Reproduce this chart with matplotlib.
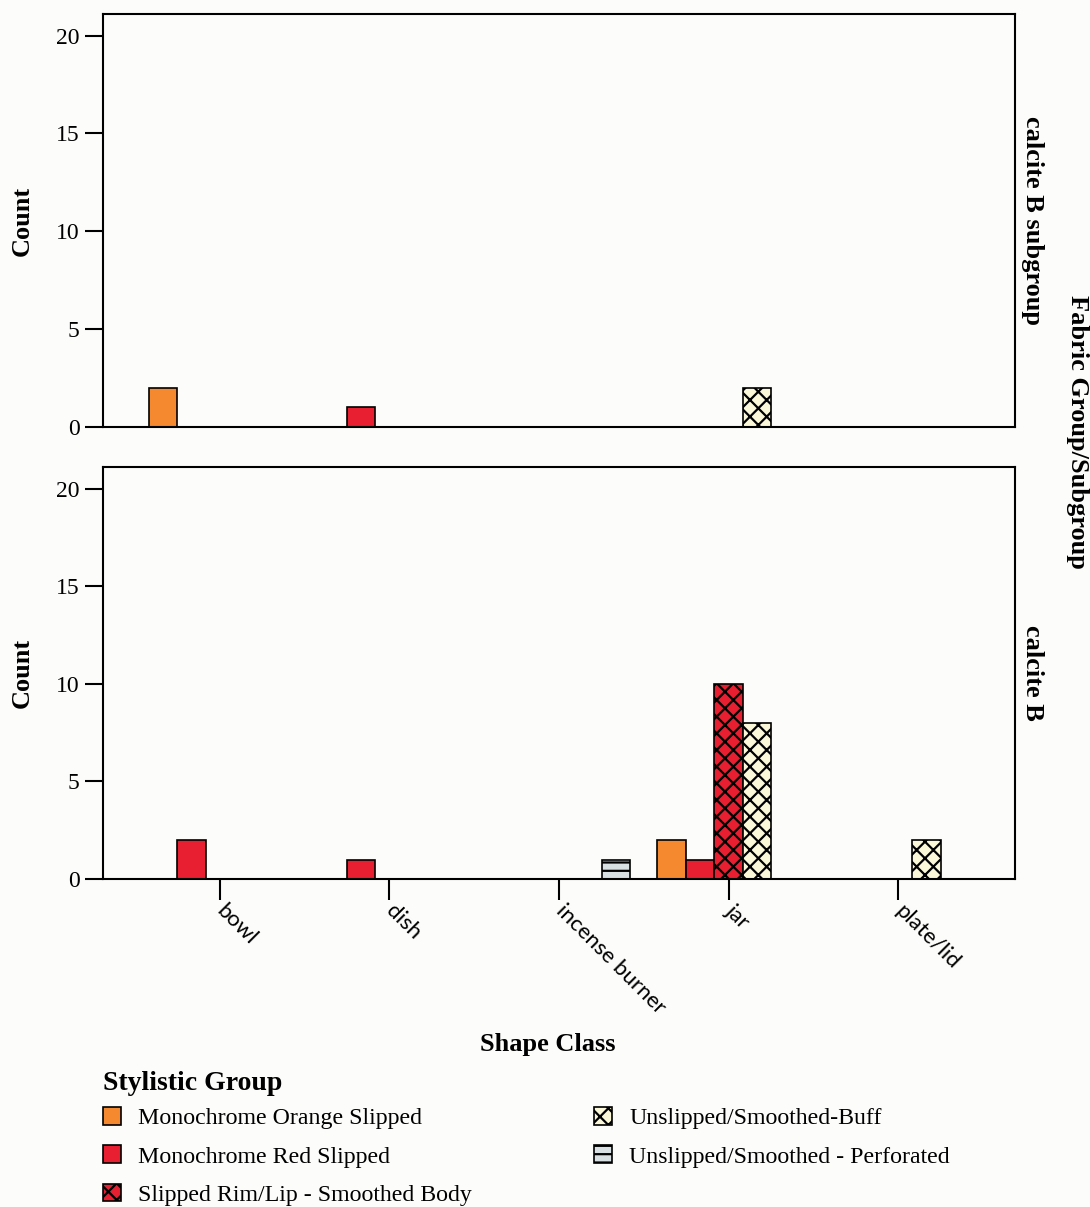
import numpy as np
import matplotlib
matplotlib.use("Agg")
import matplotlib.pyplot as plt
from matplotlib.patches import Patch

plt.rcParams['font.family'] = ['Liberation Serif', 'DejaVu Serif']
plt.rcParams['hatch.linewidth'] = 1.6

# shape classes on the x axis
categories = ['bowl', 'dish', 'incense burner', 'jar', 'plate/lid']

# stylistic groups (one bar slot each within a shape class)
groups = ['Monochrome Orange Slipped', 'Monochrome Red Slipped',
          'Slipped Rim/Lip - Smoothed Body', 'Unslipped/Smoothed-Buff',
          'Unslipped/Smoothed - Perforated']
group_colors = ['#f5892f', '#e81f30', '#e81f30', '#fbf8d9', '#d8e0e4']
group_hatches = [None, None, 'xx', 'xx', '--']

# counts per fabric subgroup, rows follow `groups`, columns follow `categories`
subgroup_counts = [
    [2, 0, 0, 0, 0],
    [0, 1, 0, 0, 0],
    [0, 0, 0, 0, 0],
    [0, 0, 0, 2, 0],
    [0, 0, 0, 0, 0],
]
calciteb_counts = [
    [0, 0, 0, 2, 0],
    [2, 1, 0, 1, 0],
    [0, 0, 0, 10, 0],
    [0, 0, 0, 8, 2],
    [0, 0, 1, 0, 0],
]
panel_names = ['calcite B subgroup', 'calcite B']
panel_data = [subgroup_counts, calciteb_counts]

fig = plt.figure(figsize=(10.9, 12.07), dpi=100, facecolor='#fcfcfa')
ax_top = fig.add_axes([0.0945, 0.6462, 0.8367, 0.3422])
ax_bot = fig.add_axes([0.0945, 0.2717, 0.8367, 0.3413])

x = np.arange(len(categories))
w = 0.168

for ax, name, counts in zip([ax_top, ax_bot], panel_names, panel_data):
    ax.set_facecolor('#fcfcfa')
    for j, g in enumerate(groups):
        vals = np.array(counts[j])
        keep = vals > 0
        ax.bar(x[keep] + (j - 2) * w, vals[keep], width=w,
               color=group_colors[j], edgecolor='black', linewidth=1.2,
               hatch=group_hatches[j])
    ax.set_xlim(-0.69, 4.69)
    ax.set_ylim(0, 21.1)
    ax.set_yticks([0, 5, 10, 15, 20])
    ax.tick_params(axis='y', length=13, width=1.5, labelsize=17, pad=4)
    for s in ax.spines.values():
        s.set_linewidth(1.5)
    ax.set_ylabel('Count', fontsize=19, fontweight='bold')
    ax.yaxis.set_label_coords(-0.076, 0.5)
    ax.text(1.007, 0.5, name, transform=ax.transAxes, rotation=-90,
            ha='left', va='center', fontsize=19, fontweight='bold')

ax_top.set_xticks([])
ax_bot.set_xticks(x)
ax_bot.set_xticklabels(categories, rotation=-45, ha='left', va='center',
                       rotation_mode='anchor', fontsize=16, family='Lato')
ax_bot.tick_params(axis='x', length=15, width=1.5, pad=6)

fig.text(1078 / 1090, 1 - 432 / 1207, 'Fabric Group/Subgroup', rotation=-90,
         ha='center', va='center', fontsize=19, fontweight='bold')
fig.text(548 / 1090, 1 - 1044 / 1207, 'Shape Class',
         ha='center', va='center', fontsize=19, fontweight='bold')

handles = [Patch(facecolor=c, edgecolor='black', hatch=h, linewidth=1.2, label=g)
           for g, c, h in zip(groups, group_colors, group_hatches)]
fig.text(103 / 1090, 1 - 1084 / 1207, 'Stylistic Group',
         ha='left', va='center', fontsize=20, fontweight='bold')
fig.legend(handles=handles, loc='upper left', ncol=2,
           bbox_to_anchor=(103 / 1090, 1 - 1107 / 1207), frameon=False,
           fontsize=17.2, handlelength=0.76, handleheight=0.76,
           handletextpad=0.72, labelspacing=0.68, columnspacing=5.1,
           borderpad=0, borderaxespad=0)

fig.savefig('out.png', dpi=100, facecolor=fig.get_facecolor())
